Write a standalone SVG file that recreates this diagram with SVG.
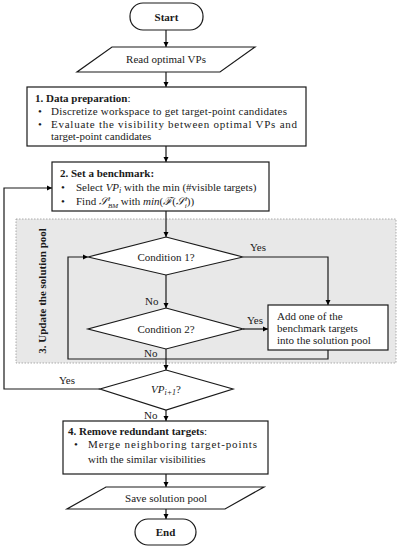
<svg xmlns="http://www.w3.org/2000/svg" width="401" height="550" viewBox="0 0 401 550">
<defs>
<marker id="ah" markerWidth="6" markerHeight="6" refX="5" refY="3" orient="auto" markerUnits="userSpaceOnUse">
<path d="M0,0.5 L5,3 L0,5.5 Z" fill="#000"/>
</marker>
<style>
.sh{fill:#fff;stroke:#1a1a1a;stroke-width:1.2}
.ln{fill:none;stroke:#1a1a1a;stroke-width:1.2}
.t{font-family:"Liberation Serif","DejaVu Serif",serif;font-size:11px;fill:#1a1a1a}
.b{font-weight:bold}
.c{text-anchor:middle}
.i{font-style:italic}
</style>
</defs>
<rect width="401" height="550" fill="#fff"/>
<g id="pool-region">
<rect x="16" y="219" width="380" height="144" fill="#e8e8e8" stroke="#999" stroke-width="0.8" stroke-dasharray="1.5,1.5"/>
<text class="t b c" transform="translate(46,291) rotate(-90)">3. Update the solution pool</text>
</g>
<g id="connectors">
<line class="ln" x1="166" y1="30" x2="166" y2="47" marker-end="url(#ah)"/>
<line class="ln" x1="166" y1="72" x2="166" y2="87" marker-end="url(#ah)"/>
<line class="ln" x1="166" y1="146" x2="166" y2="162" marker-end="url(#ah)"/>
<line class="ln" x1="166" y1="211" x2="166" y2="237" marker-end="url(#ah)"/>
<polyline class="ln" points="243,257 328,257 328,305" marker-end="url(#ah)"/>
<line class="ln" x1="166" y1="275" x2="166" y2="308" marker-end="url(#ah)"/>
<line class="ln" x1="243" y1="329" x2="268" y2="329" marker-end="url(#ah)"/>
<polyline class="ln" points="328,350 328,359 68,359 68,257 88,257" marker-end="url(#ah)"/>
<line class="ln" x1="166" y1="349" x2="166" y2="370" marker-end="url(#ah)"/>
<polyline class="ln" points="100,389 4,389 4,188 52,188" marker-end="url(#ah)"/>
<line class="ln" x1="166" y1="410" x2="166" y2="421" marker-end="url(#ah)"/>
<line class="ln" x1="166" y1="474" x2="166" y2="487" marker-end="url(#ah)"/>
<line class="ln" x1="166" y1="509" x2="166" y2="519" marker-end="url(#ah)"/>
<text class="t" x="250" y="251">Yes</text>
<text class="t" x="145" y="305">No</text>
<text class="t" x="247" y="324">Yes</text>
<text class="t" x="144" y="357">No</text>
<text class="t" x="59" y="384">Yes</text>
<text class="t" x="144" y="419">No</text>
</g>
<g id="start">
<rect class="sh" x="130" y="3" width="73" height="27" rx="13"/>
<text class="t b c" x="166.5" y="20.5">Start</text>
</g>
<g id="read-vps">
<polygon class="sh" points="112,47 255,47 220,72 77,72"/>
<text class="t c" x="166" y="62.5">Read optimal VPs</text>
</g>
<g id="data-prep">
<rect class="sh" x="27" y="87" width="279" height="59"/>
<text class="t" x="35" y="102"><tspan class="b">1. Data preparation</tspan>:</text>
<text class="t" x="38" y="114.5">•</text>
<text class="t" x="51" y="114.5" textLength="236" lengthAdjust="spacing">Discretize workspace to get target-point candidates</text>
<text class="t" x="38" y="127.5">•</text>
<text class="t" x="51" y="127.5" textLength="246" lengthAdjust="spacing">Evaluate the visibility between optimal VPs and</text>
<text class="t" x="51" y="140">target-point candidates</text>
</g>
<g id="benchmark">
<rect class="sh" x="52" y="162" width="217" height="49"/>
<text class="t b" x="60" y="176.5">2. Set a benchmark:</text>
<text class="t" x="61" y="190.5">•</text>
<text class="t" x="76" y="190.5">Select <tspan class="i">VP</tspan><tspan class="i" font-size="8" dy="2">i</tspan><tspan dy="-2"> with the min (#visible targets)</tspan></text>
<text class="t" x="61" y="205">•</text>
<text class="t" x="76" y="205">Find <tspan class="i">𝒮</tspan><tspan class="i" font-size="7" dy="-4">i</tspan><tspan class="i" font-size="7" dx="-2" dy="7">BM</tspan><tspan dy="-3"> with </tspan><tspan class="i">min</tspan>(<tspan class="i">ℱ</tspan>(<tspan class="i">𝒮</tspan><tspan class="i" font-size="7" dy="-4">i</tspan><tspan class="i" font-size="7" dx="-2" dy="7">i</tspan><tspan dy="-3">))</tspan></text>
</g>
<g id="condition1">
<polygon class="sh" points="166,237 243,257 166,275 88,257"/>
<text class="t c" x="166" y="260.5">Condition 1?</text>
</g>
<g id="condition2">
<polygon class="sh" points="166,308 243,329 166,349 88,329"/>
<text class="t c" x="166" y="332.5">Condition 2?</text>
</g>
<g id="add-target">
<rect class="sh" x="268" y="305" width="120" height="45"/>
<text class="t" x="277" y="320">Add one of the</text>
<text class="t" x="277" y="332">benchmark targets</text>
<text class="t" x="277" y="344">into the solution pool</text>
</g>
<g id="next-vp">
<polygon class="sh" points="166,370 233,389 166,410 100,389"/>
<text class="t c" x="166" y="392.5"><tspan class="i">VP</tspan><tspan class="i" font-size="8" dy="2">i+1</tspan><tspan dy="-2">?</tspan></text>
</g>
<g id="remove-redundant">
<rect class="sh" x="63" y="421" width="205" height="53"/>
<text class="t" x="68" y="435"><tspan class="b">4. Remove redundant targets</tspan>:</text>
<text class="t" x="74" y="447.5">•</text>
<text class="t" x="88" y="447.5" textLength="169" lengthAdjust="spacing">Merge neighboring target-points</text>
<text class="t" x="88" y="463">with the similar visibilities</text>
</g>
<g id="save-pool">
<polygon class="sh" points="106,487 264,487 225,509 67,509"/>
<text class="t c" x="166" y="501.5">Save solution pool</text>
</g>
<g id="end">
<rect class="sh" x="135" y="519" width="61" height="26" rx="13"/>
<text class="t b c" x="165.5" y="536">End</text>
</g>
</svg>
